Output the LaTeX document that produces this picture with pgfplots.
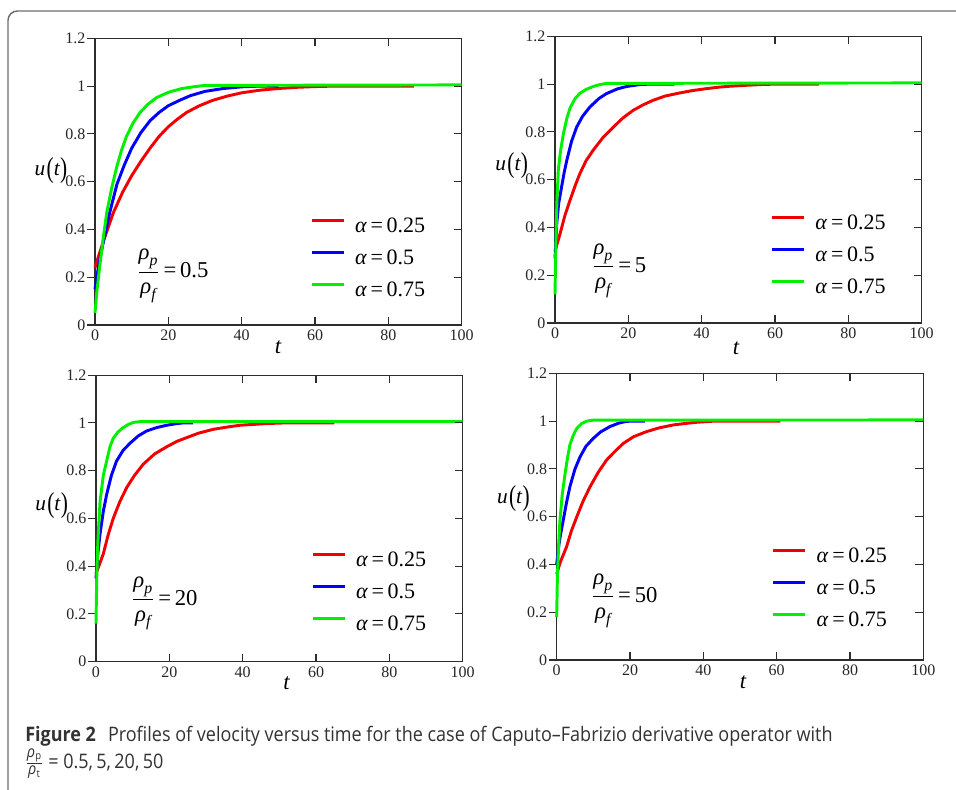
\documentclass[border=0pt]{standalone}
\usepackage{amsmath}
\usepackage{fontspec}
\setmainfont{Liberation Serif}
\newfontfamily\capfont{Open Sans}[FakeStretch=0.9]
\usepackage{pgfplots}
\pgfplotsset{compat=1.18}

\definecolor{cRed}{RGB}{240,0,0}
\definecolor{cBlue}{RGB}{0,0,255}
\definecolor{cGreen}{RGB}{0,240,0}
\definecolor{frameC}{RGB}{45,45,45}
\definecolor{boxC}{RGB}{110,110,110}
\definecolor{capC}{RGB}{50,50,50}

\newcommand{\ut}{\fontsize{16}{16}\selectfont\textit{u}\kern1pt\raisebox{-1.5pt}{\scalebox{1}[1.35]{(}}\textit{t}\raisebox{-1.5pt}{\scalebox{1}[1.35]{)}}}
\newcommand{\rr}[1]{\fontsize{17}{18}\selectfont$\dfrac{\textit{ρ}_{\textit{p}}}{\textit{ρ}_{\textit{f}}}$\,=\,#1}
\newcommand{\capr}[1]{\text{\capfont\fontsize{12}{12}\selectfont\textit{ρ}\kern0.3pt\textsubscript{#1}}}

\pgfplotsset{
  panel/.style={
    scale only axis, width=275pt, height=215pt,
    xmin=0, xmax=100, ymin=0, ymax=1.2,
    xtick={0,20,40,60,80,100}, ytick={0,0.2,0.4,0.6,0.8,1,1.2},
    axis line style={frameC, line width=0.8pt},
    xtick pos=both, xtick align=inside,
    ytick pos=left, ytick align=outside,
    major tick length=6pt,
    tick style={frameC, line width=0.8pt},
    ticklabel style={font=\fontsize{12}{12}\selectfont, text=black!85},
    yticklabel style={inner sep=1pt},
    /pgf/number format/assume math mode=true,
    clip=false,
    legend style={draw=none, fill=none, inner sep=0pt, anchor=north west,
      font=\fontsize{16.5}{18}\selectfont, row sep=8pt,
      nodes={inner sep=0pt, text height=12pt, text depth=4pt},
      /tikz/every odd column/.append style={column sep=7.5pt}},
    legend cell align=left,
    legend image code/.code={\draw[#1] (0pt,5pt) -- (24pt,5pt);},
    every axis plot/.append style={line width=2.2pt, line join=round},
    extra description/.code={
      \foreach \v in {0.16667,0.33333,0.5,0.66667,0.83333}{
        \draw[frameC, line width=0.8pt] (axis description cs:1,\v) -- ++(-6pt,0pt);}
    },
  }
}

\begin{document}
\begin{tikzpicture}
\path[use as bounding box] (0,0) rectangle (717pt,-591.75pt);
\draw[boxC, line width=1.1pt, rounded corners=7pt] (6pt,-600pt) -- (6pt,-8.25pt) -- (760pt,-8.25pt);

% rho_p/rho_f = 0.5
\begin{axis}[panel, at={(71.25pt,-243.75pt)}, anchor=south west,
  legend style={at={(axis cs:58.6,0.456)}}]
\addplot[cRed] coordinates {(0,0.24)(1,0.29)(2.5,0.36)(5,0.47)(7.5,0.555)(10,0.625)(12.5,0.685)(15,0.74)(17.5,0.79)(20,0.83)(22.5,0.862)(25,0.89)(28.5,0.918)(32,0.94)(36,0.958)(40,0.972)(45,0.983)(50,0.99)(55,0.995)(60,0.998)(65,1)(87,1)};
\addlegendentry{\textit{α}\,=\,0.25}
\addplot[cBlue] coordinates {(0,0.15)(1,0.25)(2.3,0.35)(4,0.47)(6,0.59)(8,0.67)(10,0.74)(12.5,0.805)(15,0.855)(17.5,0.89)(20,0.918)(23,0.94)(26,0.96)(30,0.978)(35,0.99)(40,0.997)(45,1)(50,1)};
\addlegendentry{\textit{α}\,=\,0.5}
\addplot[cGreen] coordinates {(0,0.05)(0.5,0.14)(1.4,0.26)(2.3,0.37)(3.2,0.47)(4.5,0.57)(5.9,0.66)(7.2,0.73)(8.6,0.79)(10.4,0.846)(12.3,0.89)(14.5,0.925)(16.8,0.952)(20,0.974)(23.7,0.99)(27.3,0.998)(30,1.003)(100,1.005)};
\addlegendentry{\textit{α}\,=\,0.75}
\node[anchor=west, inner sep=0pt] at (axis cs:11.4,0.205) {\rr{0.5}};
\node at (rel axis cs:-0.12,0.54) {\ut};
\node at (rel axis cs:0.5,-0.077) {\fontsize{17}{17}\selectfont\textit{t}};
\end{axis}

% rho_p/rho_f = 5
\begin{axis}[panel, at={(416.25pt,-242.25pt)}, anchor=south west,
  legend style={at={(axis cs:58.7,0.46)}}]
\addplot[cRed] coordinates {(0,0.3)(1.4,0.375)(2.7,0.45)(4.1,0.514)(5.5,0.575)(6.8,0.626)(8.5,0.68)(10.4,0.723)(13,0.775)(15.9,0.82)(18.5,0.858)(21.3,0.89)(24,0.913)(26.7,0.932)(30,0.95)(34,0.963)(37.5,0.973)(41.3,0.981)(44.5,0.987)(47.6,0.991)(52,0.995)(56,0.998)(60,1)(72,1)};
\addlegendentry{\textit{α}\,=\,0.25}
\addplot[cBlue] coordinates {(0,0.27)(0.5,0.42)(1,0.5)(1.8,0.57)(2.5,0.63)(3.2,0.68)(4.5,0.76)(5.9,0.82)(7.5,0.865)(9.5,0.904)(12,0.94)(14,0.96)(17,0.98)(19.5,0.99)(23,0.998)(26,1)(32.6,1)};
\addlegendentry{\textit{α}\,=\,0.5}
\addplot[cGreen] coordinates {(0,0.12)(0.2,0.3)(0.5,0.5)(0.9,0.64)(1.5,0.72)(2.3,0.793)(3.2,0.855)(4.1,0.9)(5.5,0.94)(6.8,0.962)(8.5,0.978)(10.4,0.99)(12,0.997)(14,1.003)(100,1.005)};
\addlegendentry{\textit{α}\,=\,0.75}
\node[anchor=west, inner sep=0pt] at (axis cs:10,0.219) {\rr{5}};
\node at (rel axis cs:-0.118,0.55) {\ut};
\node at (rel axis cs:0.494,-0.088) {\fontsize{17}{17}\selectfont\textit{t}};
\end{axis}

% rho_p/rho_f = 20
\begin{axis}[panel, at={(72pt,-496.3pt)}, anchor=south west,
  legend style={at={(axis cs:58.6,0.468)}}]
\addplot[cRed] coordinates {(0,0.369)(1,0.41)(2,0.452)(3.3,0.53)(4.7,0.6)(6.5,0.67)(8.4,0.73)(10.5,0.78)(12.9,0.827)(16,0.87)(19.3,0.9)(22,0.922)(24.7,0.938)(28,0.957)(32,0.973)(36,0.983)(39.3,0.99)(46.5,0.997)(52,1)(65,1)};
\addlegendentry{\textit{α}\,=\,0.25}
\addplot[cBlue] coordinates {(0,0.35)(0.5,0.45)(1.1,0.535)(2,0.63)(2.9,0.7)(4.2,0.78)(5.6,0.84)(7.4,0.885)(9.3,0.915)(11.5,0.945)(13.8,0.966)(16.5,0.98)(19.3,0.99)(22,0.997)(24,1)(26.5,1)};
\addlegendentry{\textit{α}\,=\,0.5}
\addplot[cGreen] coordinates {(0,0.16)(0.2,0.35)(0.5,0.5)(1.1,0.67)(2,0.78)(2.9,0.84)(3.8,0.9)(4.7,0.935)(6,0.962)(7.4,0.98)(8.8,0.993)(10.2,1.002)(12,1.005)(100,1.005)};
\addlegendentry{\textit{α}\,=\,0.75}
\node[anchor=west, inner sep=0pt] at (axis cs:9.7,0.244) {\rr{20}};
\node at (rel axis cs:-0.121,0.545) {\ut};
\node at (rel axis cs:0.52,-0.075) {\fontsize{17}{17}\selectfont\textit{t}};
\end{axis}

% rho_p/rho_f = 50
\begin{axis}[panel, at={(417.5pt,-495pt)}, anchor=south west,
  legend style={at={(axis cs:58.6,0.477)}}]
\addplot[cRed] coordinates {(0,0.36)(1,0.41)(2.7,0.474)(4,0.54)(5.5,0.6)(7.2,0.665)(9.1,0.725)(11.3,0.785)(13.6,0.837)(16,0.875)(18.2,0.907)(21,0.935)(24.5,0.956)(28,0.972)(31.8,0.984)(35,0.99)(38,0.995)(43,1)(61,1)};
\addlegendentry{\textit{α}\,=\,0.25}
\addplot[cBlue] coordinates {(0,0.4)(0.5,0.47)(1,0.52)(1.8,0.586)(2.7,0.66)(3.6,0.725)(5,0.8)(6.4,0.851)(8,0.895)(10,0.928)(12,0.955)(14.5,0.977)(17,0.992)(19,0.999)(21,1)(24.1,1)};
\addlegendentry{\textit{α}\,=\,0.5}
\addplot[cGreen] coordinates {(0,0.18)(0.2,0.35)(0.5,0.47)(0.9,0.586)(1.5,0.69)(2.3,0.781)(3,0.85)(3.6,0.9)(4.5,0.94)(5.5,0.97)(6.8,0.99)(8.2,1)(10,1.004)(100,1.005)};
\addlegendentry{\textit{α}\,=\,0.75}
\node[anchor=west, inner sep=0pt] at (axis cs:9.5,0.248) {\rr{50}};
\node at (rel axis cs:-0.118,0.564) {\ut};
\node at (rel axis cs:0.509,-0.076) {\fontsize{17}{17}\selectfont\textit{t}};
\end{axis}

\node[anchor=base west, inner sep=0pt, text=capC] at (18.75pt,-555.75pt)
  {\capfont\fontsize{15}{18}\selectfont\textbf{Figure 2}\hspace{9pt}Profiles of velocity versus time for the case of Caputo–Fabrizio derivative operator with};
\node[anchor=base west, inner sep=0pt, text=capC] at (18.75pt,-576pt)
  {\capfont\fontsize{15}{18}\selectfont$\frac{\capr{p}}{\capr{t}}$ = 0.5,\,5,\,20,\,50};
\end{tikzpicture}
\end{document}
